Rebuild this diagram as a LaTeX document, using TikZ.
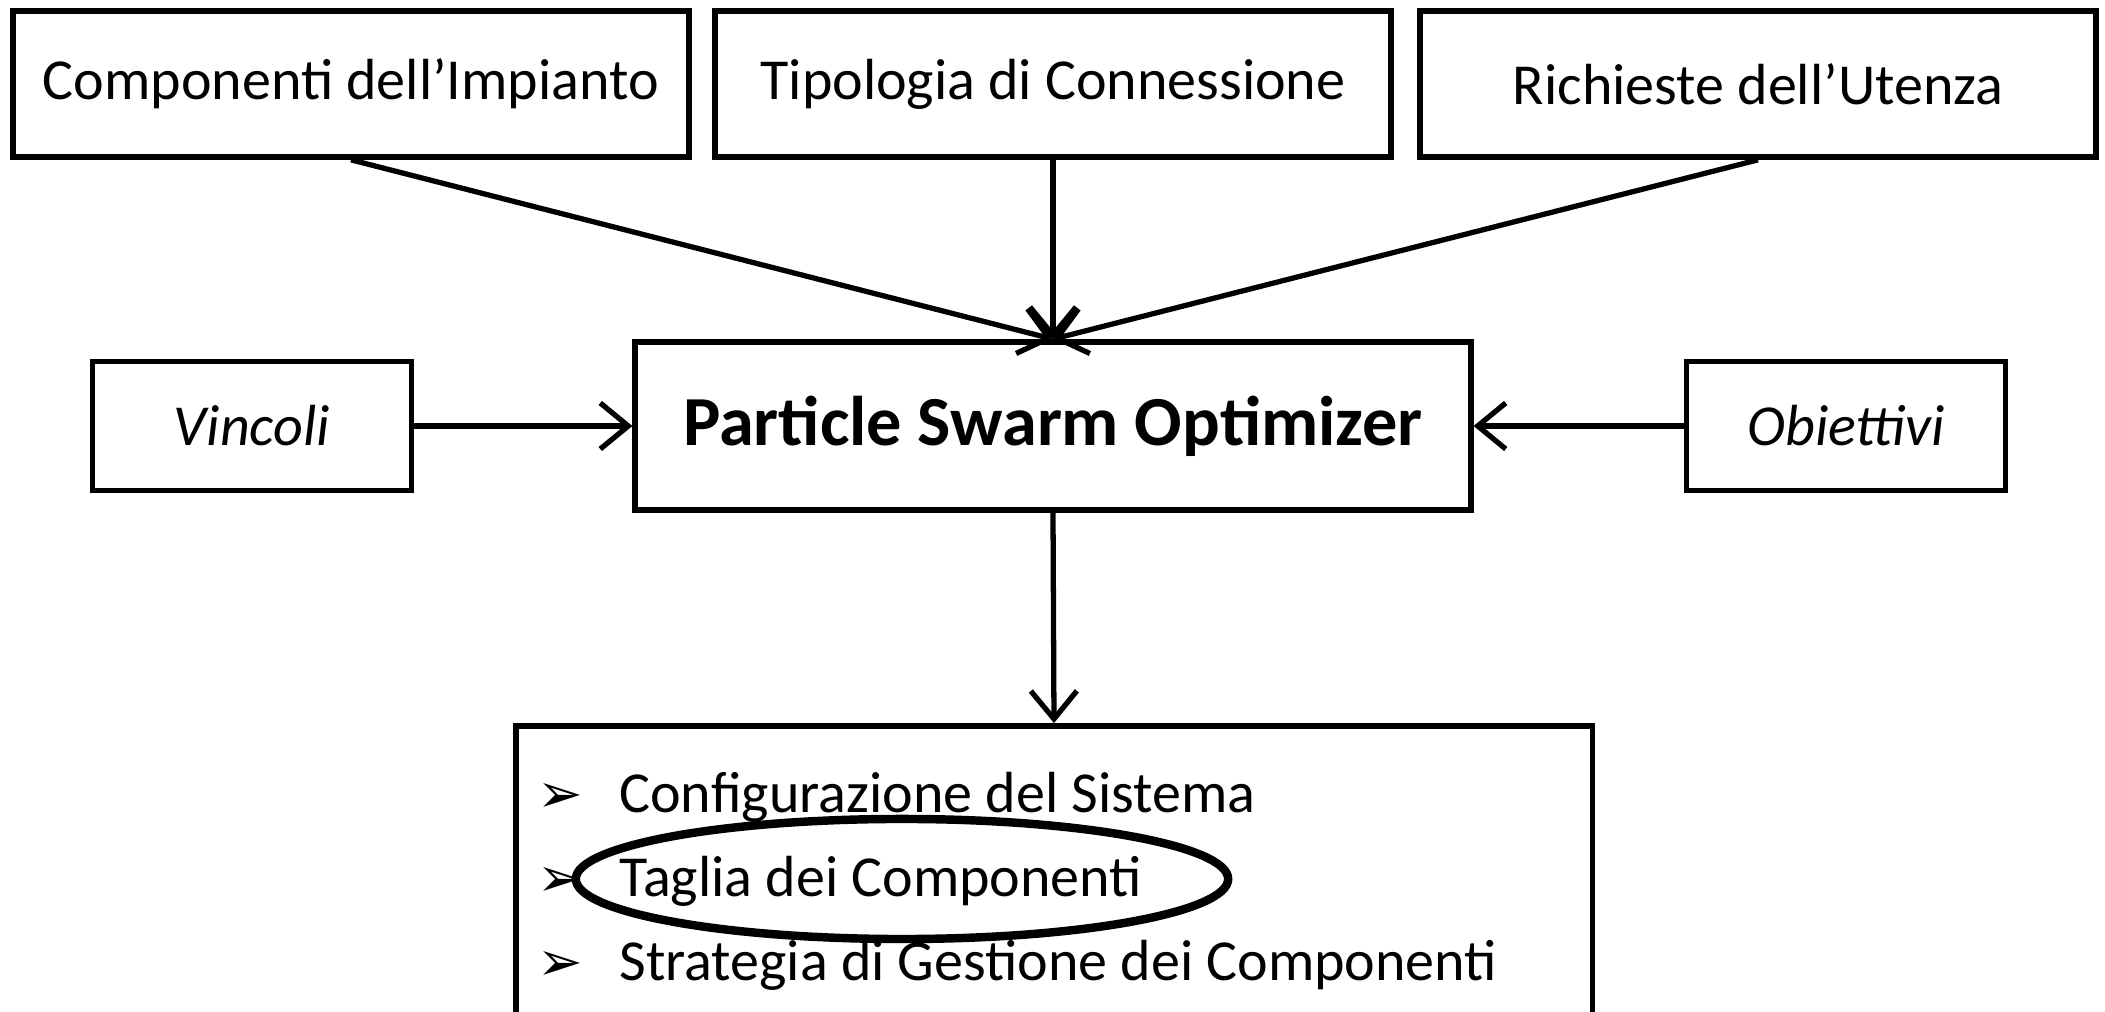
\documentclass[tikz,border=0pt]{standalone}
\usepackage{fontspec}
\setmainfont{Carlito}
\newfontfamily\dingfont{DejaVu Sans}
\usetikzlibrary{arrows.meta}
\tikzset{
  box/.style={draw, line width=1.6pt, minimum height=1.46cm, font=\fontsize{16.5}{20}\selectfont},
  sidebox/.style={box, minimum width=3.19cm, minimum height=1.29cm, font=\fontsize{16.5}{20}\selectfont\itshape},
  item/.style={anchor=west, font=\fontsize{16.5}{20}\selectfont},
  flow/.style={line width=1.5pt, -{Straight Barb[length=2.8mm,width=4.6mm,line width=1.5pt]}}
}
\newcommand{\itembullet}{\makebox[0.82cm][l]{\dingfont\fontsize{15.5}{18}\selectfont ➢}}
\begin{document}
\begin{tikzpicture}[x=0.01cm,y=0.01cm]
  \useasboundingbox (0,0) rectangle (2105,1012);

  % The inputs on top
  \node [box, minimum width=6.76cm] (impianto) at (351,928) {Componenti dell’Impianto};
  \node [box, minimum width=6.75cm] (connessione) at (1053,928) {Tipologia di Connessione};
  \node [box, minimum width=6.76cm] (utenza) at (1758,928) {Richieste dell’Utenza};

  % The optimizer and its sides
  \node [box, minimum width=8.35cm, minimum height=1.68cm,
         font=\fontsize{20}{24}\selectfont\bfseries] (pso) at (1053,586) {Particle Swarm Optimizer};
  \node [sidebox] (vincoli) at (252,586) {Vincoli};
  \node [sidebox] (obiettivi) at (1846,586) {Obiettivi};

  % The results
  \node [draw, line width=1.6pt, minimum width=10.76cm, minimum height=3.1cm] (risultati) at (1054,131) {};
  \node [item] (config) at (525,215) {\itembullet Configurazione del Sistema};
  \node [item] (taglia) at (525,131) {\itembullet Taglia dei Componenti};
  \node [item] (strategia) at (525,47) {\itembullet Strategia di Gestione dei Componenti};
  \draw [line width=2.4pt] (902,133) ellipse (3.26cm and 0.6cm);

  % Connections
  \draw [flow] (impianto.south) -- (pso.north);
  \draw [flow] (connessione.south) -- (pso.north);
  \draw [flow] (utenza.south) -- (pso.north);
  \draw [flow] (vincoli.east) -- (pso.west);
  \draw [flow] (obiettivi.west) -- (pso.east);
  \draw [flow] (pso.south) -- (risultati.north);
\end{tikzpicture}
\end{document}
